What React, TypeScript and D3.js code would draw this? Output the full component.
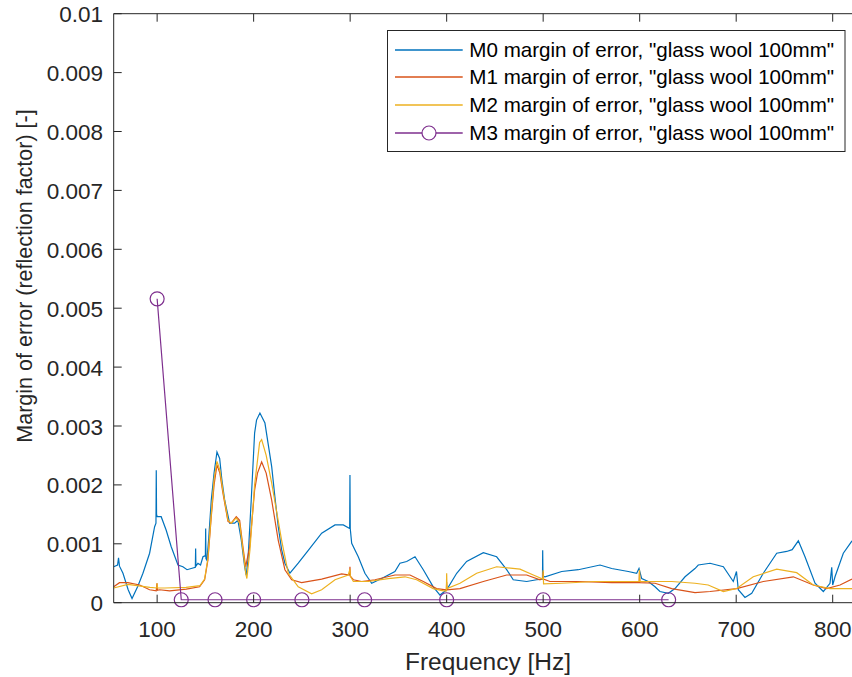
import React from "react";
import * as d3 from "d3";

const m0: [number, number][] = [[55,0.00061],[59,0.00064],[60,0.00076],[61,0.00062],[64.6,0.0005],[70,0.00022],[74,0.00007],[80,0.00028],[85.3,0.0005],[92.2,0.00084],[97.4,0.00129],[98.8,0.00135],[99.1,0.00225],[99.4,0.0015],[100.1,0.00146],[104.2,0.00146],[109.4,0.00123],[114.6,0.00095],[121.6,0.00064],[126.7,0.00061],[131,0.00056],[135.3,0.00058],[139.6,0.0006],[139.9,0.00092],[140.2,0.00062],[142.3,0.00067],[145,0.00064],[147.5,0.00078],[150,0.0008],[150.3,0.00126],[150.6,0.00075],[151.6,0.00072],[153.5,0.0011],[156.1,0.00174],[159,0.0022],[162,0.00256],[164.8,0.00245],[167,0.0021],[170,0.00174],[175.1,0.00135],[180.3,0.00135],[183.7,0.0014],[187.2,0.00106],[190.7,0.00061],[192.3,0.00047],[194.1,0.00072],[197.5,0.00174],[201,0.00288],[203,0.0031],[206.5,0.00322],[211.7,0.00305],[215,0.0027],[218.7,0.00231],[222,0.0018],[225.5,0.00129],[229,0.0009],[232.4,0.00067],[237.6,0.0005],[246.2,0.00067],[256.6,0.00089],[270.5,0.00118],[284.3,0.00132],[292.9,0.00132],[299.5,0.00126],[299.8,0.00217],[300.1,0.00126],[301.6,0.00101],[308.4,0.00078],[315.3,0.0005],[322.3,0.00033],[332.6,0.00041],[346.4,0.00053],[351.6,0.00067],[358.6,0.0007],[367.2,0.00078],[375.8,0.00056],[386.1,0.00027],[393.1,0.00013],[400,0.00022],[410.4,0.0005],[420.7,0.0007],[438,0.00085],[451.8,0.00078],[462.2,0.00056],[469,0.00039],[482.9,0.00036],[493.3,0.00039],[499.3,0.0004],[499.5,0.00089],[499.8,0.00045],[501.9,0.00044],[519.2,0.00053],[536.4,0.00056],[558.9,0.00064],[571,0.00058],[588.2,0.00053],[596.9,0.0005],[599.3,0.00058],[602.1,0.00041],[608.9,0.00036],[615.9,0.00027],[621,0.00019],[629.7,0.00016],[636.6,0.00024],[647,0.00044],[657.3,0.00058],[660.7,0.00064],[672.9,0.00067],[686.7,0.00061],[697,0.00036],[700.3,0.00053],[702.2,0.00022],[709.1,0.00009],[716.1,0.00016],[728.1,0.0005],[742,0.00084],[752.3,0.00087],[758,0.0009],[764.4,0.00105],[771.3,0.00078],[781.7,0.00033],[790.3,0.00019],[797.2,0.00033],[799,0.0006],[800,0.0003],[802.4,0.00044],[811,0.00084],[820,0.00105]];

const m1: [number, number][] = [[55,0.00027],[61,0.00034],[69.7,0.00034],[81.9,0.0003],[92.2,0.00022],[99.1,0.0002],[99.8,0.00033],[100.5,0.00021],[102.6,0.00022],[113,0.0002],[130.2,0.00023],[144,0.00027],[149.2,0.00039],[152.6,0.00072],[156.1,0.00146],[159,0.002],[162,0.00234],[165,0.0022],[168.2,0.00186],[173.4,0.00138],[176.8,0.00135],[182,0.00146],[185.5,0.0014],[188.9,0.00095],[191.7,0.00061],[195.9,0.00095],[201,0.00191],[204,0.0022],[208.3,0.00239],[213,0.0022],[218.7,0.00174],[225.5,0.00106],[232.4,0.00056],[239.4,0.00039],[249.7,0.00034],[270.5,0.0004],[291.2,0.00049],[299.5,0.00047],[299.8,0.00061],[300.2,0.00045],[303.3,0.00039],[311.9,0.00036],[325.7,0.00039],[346.4,0.00047],[362,0.00047],[375.8,0.00036],[389.6,0.00024],[399.7,0.00022],[400,0.00035],[400.3,0.00022],[413.8,0.00024],[438,0.00036],[462.2,0.00047],[482.9,0.00047],[496.7,0.00039],[499.7,0.00042],[500,0.00052],[500.3,0.0004],[507,0.00036],[536.4,0.00036],[571,0.00034],[599.5,0.00034],[599.8,0.00052],[600.2,0.00034],[615.9,0.00033],[633.2,0.00024],[657.3,0.00017],[672.9,0.00019],[700.5,0.00024],[728.1,0.00036],[759.2,0.00044],[779.9,0.0003],[793.8,0.00024],[807.6,0.0003],[820,0.0004]];

const m2: [number, number][] = [[55,0.00025],[69.7,0.00031],[92.5,0.00026],[99.7,0.00025],[100,0.00033],[100.3,0.00025],[108,0.00025],[130,0.00026],[144.4,0.00029],[149.2,0.0004],[152.6,0.00075],[156.1,0.0015],[159,0.0021],[162,0.0024],[165,0.00225],[168.2,0.0019],[173.4,0.0014],[176.8,0.00135],[182,0.00144],[185.5,0.00135],[188.9,0.0009],[192,0.00048],[193,0.00041],[196.2,0.0009],[201,0.002],[206.2,0.00272],[208.3,0.00277],[213,0.0025],[218.7,0.00203],[229,0.00106],[235.9,0.0005],[246.2,0.00027],[260.1,0.00015],[270.5,0.00022],[284.3,0.00039],[298,0.00047],[299.8,0.00057],[300.2,0.00045],[303.3,0.00036],[318.8,0.00036],[339.5,0.00041],[356.8,0.00044],[368.9,0.00039],[386.1,0.00024],[396.5,0.0002],[399.7,0.0002],[400,0.0005],[400.4,0.00024],[413.8,0.00033],[431.1,0.0005],[451.8,0.00061],[476,0.00057],[489.8,0.00047],[499.6,0.0004],[500,0.00055],[500.4,0.00032],[519.2,0.00033],[553.8,0.00036],[599.5,0.00036],[599.8,0.00056],[600.2,0.00036],[615.9,0.00036],[633.2,0.00036],[657.3,0.00033],[671,0.0003],[686.7,0.00019],[700.5,0.00024],[717.7,0.00044],[742,0.00057],[762.7,0.00051],[779.9,0.0003],[797.2,0.00024],[820,0.00024]];

const m3Freq = [100, 125, 160, 200, 250, 315, 400, 500, 630];
const m3Val = [0.00516, 0.00005, 0.00005, 0.00005, 0.00005, 0.00005, 0.00005, 0.00005, 0.00005];

const xTicks = [100, 200, 300, 400, 500, 600, 700, 800];
const yTicks = [0, 0.001, 0.002, 0.003, 0.004, 0.005, 0.006, 0.007, 0.008, 0.009, 0.01];

const legendLabels = [
  'M0 margin of error, "glass wool 100mm"',
  'M1 margin of error, "glass wool 100mm"',
  'M2 margin of error, "glass wool 100mm"',
  'M3 margin of error, "glass wool 100mm"',
];
const colors = ["#0072BD", "#D95319", "#EDB120", "#7E2F8E"];

const L = 113.7, R = 852, T = 13.7, B = 602.7;
const FONT = '"Liberation Sans", Arial, Helvetica, sans-serif';
const AX = "#262626";

export default function App() {
  const x = d3.scaleLinear().domain([55, 820]).range([L, R]);
  const y = d3.scaleLinear().domain([0, 0.01]).range([B, T]);
  const line = d3.line<[number, number]>().x(d => x(d[0])).y(d => y(d[1]));
  const m3: [number, number][] = m3Freq.map((f, i) => [f, m3Val[i]]);
  const series = [m0, m1, m2];
  const legY = [50, 77, 105, 133];

  return (
    <svg width={852} height={677} style={{ position: "absolute", left: 0, top: 0, background: "#fff" }} fontFamily={FONT}>
      <defs>
        <clipPath id="plotclip">
          <rect x={L} y={T - 8} width={R - L} height={B - T + 16} />
        </clipPath>
      </defs>
      <rect x={0} y={0} width={852} height={677} fill="#fff" />
      <g clipPath="url(#plotclip)">
        {series.map((s, i) => (
          <path key={i} d={line(s) || ""} fill="none" stroke={colors[i]} strokeWidth={1.2} />
        ))}
        <path d={line(m3) || ""} fill="none" stroke={colors[3]} strokeWidth={1.2} />
        {m3.map((d, i) => (
          <circle key={i} cx={x(d[0])} cy={y(d[1])} r={7} fill="none" stroke={colors[3]} strokeWidth={1.2} />
        ))}
      </g>
      <line x1={L} x2={L} y1={T} y2={B} stroke={AX} strokeWidth={1} />
      <line x1={L} x2={R} y1={T} y2={T} stroke={AX} strokeWidth={1} />
      <line x1={L} x2={R} y1={B} y2={B} stroke={AX} strokeWidth={1} />
      {xTicks.map(t => (
        <g key={t}>
          <line x1={x(t)} x2={x(t)} y1={B} y2={B - 8} stroke={AX} strokeWidth={1} />
          <line x1={x(t)} x2={x(t)} y1={T} y2={T + 8} stroke={AX} strokeWidth={1} />
          <text x={x(t)} y={637} textAnchor="middle" fontSize={22.5} fill={AX}>{t}</text>
        </g>
      ))}
      {yTicks.map(t => (
        <g key={t}>
          <line x1={L} x2={L + 8} y1={y(t)} y2={y(t)} stroke={AX} strokeWidth={1} />
          <text x={103} y={y(t) + 8.5} textAnchor="end" fontSize={22.5} fill={AX}>{t === 0 ? "0" : d3.format("")(t)}</text>
        </g>
      ))}
      <text x={488} y={670} textAnchor="middle" fontSize={24.5} fill={AX}>Frequency [Hz]</text>
      <text transform={`translate(32,276) rotate(-90)`} textAnchor="middle" fontSize={21.5} fill={AX}>Margin of error (reflection factor) [-]</text>
      <rect x={387.5} y={30.5} width={457.5} height={121} fill="#fff" stroke={AX} strokeWidth={1} />
      {legendLabels.map((lab, i) => (
        <g key={i}>
          <line x1={395} x2={462.7} y1={legY[i]} y2={legY[i]} stroke={colors[i]} strokeWidth={1.5} />
          {i === 3 && <circle cx={429} cy={legY[i]} r={7} fill="#fff" stroke={colors[3]} strokeWidth={1.2} />}
          <text x={469.3} y={legY[i] + 7} fontSize={20.6} fill="#000">{lab}</text>
        </g>
      ))}
    </svg>
  );
}
